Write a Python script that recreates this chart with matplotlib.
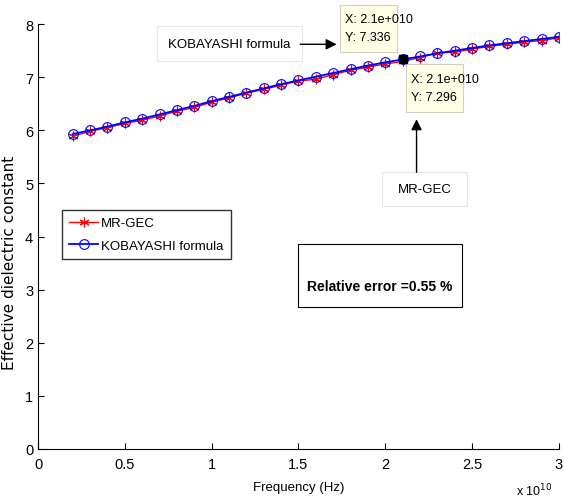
import matplotlib.pyplot as plt
from matplotlib.patches import Rectangle

plt.rcParams['font.family'] = ['Liberation Sans', 'DejaVu Sans']

# frequency in units of 1e10 Hz
freq = [0.2, 0.3, 0.4, 0.5, 0.6, 0.7, 0.8, 0.9, 1.0, 1.1, 1.2, 1.3, 1.4, 1.5, 1.6,
        1.7, 1.8, 1.9, 2.0, 2.1, 2.2, 2.3, 2.4, 2.5, 2.6, 2.7, 2.8, 2.9, 3.0]
kobayashi = [5.93, 6.00, 6.07, 6.15, 6.22, 6.30, 6.38, 6.46, 6.55, 6.63, 6.71, 6.79, 6.87,
             6.94, 7.01, 7.08, 7.15, 7.22, 7.28, 7.336, 7.39, 7.45, 7.50, 7.55, 7.60,
             7.64, 7.68, 7.72, 7.76]
mrgec = [5.89, 5.98, 6.05, 6.13, 6.19, 6.27, 6.36, 6.43, 6.53, 6.61, 6.70, 6.77, 6.85,
         6.93, 6.96, 7.05, 7.13, 7.19, 7.25, 7.296, 7.37, 7.46, 7.47, 7.53, 7.58,
         7.62, 7.66, 7.69, 7.74]
xticks = [0, 0.5, 1, 1.5, 2, 2.5, 3]
yticks = [0, 1, 2, 3, 4, 5, 6, 7, 8]

fig = plt.figure(figsize=(5.64, 5.02), dpi=100)
ax = fig.add_axes([0.0674, 0.1036, 0.9236, 0.8464])

ax.plot(freq, mrgec, color='red', lw=1, marker=(6, 2, 0), ms=7, mew=0.8,
        label='MR-GEC')
ax.plot(freq, kobayashi, color='blue', lw=1.3, marker='o', ms=7, mfc='none', mew=0.8,
        label='KOBAYASHI formula')

ax.set_xlim(0, 3)
ax.set_ylim(0, 8)
ax.set_xticks(xticks)
ax.set_xticklabels(['0', '0.5', '1', '1.5', '2', '2.5', '3'])
ax.set_yticks(yticks)
ax.spines['top'].set_visible(False)
ax.spines['right'].set_visible(False)
ax.tick_params(direction='in', length=4, labelsize=10.5, width=0.8)
ax.tick_params(axis='x', pad=6)

ax.set_xlabel('Frequency (Hz)', fontsize=9.5, labelpad=7)
ax.set_ylabel('Effective dielectric constant', fontsize=11, family=['DejaVu Sans'])
ax.yaxis.set_label_coords(-0.04, 0.44)
fig.text(0.98, 0.012, r'x 10$^{10}$', fontsize=9, ha='right')

leg = ax.legend(loc='upper left', bbox_to_anchor=(0.046, 0.563), fontsize=9.5,
                fancybox=False, edgecolor='black', handlelength=2.2,
                borderpad=0.55, labelspacing=0.8, handletextpad=0.2,
                borderaxespad=0)
leg.get_frame().set_linewidth(1)

# relative error box
ax.add_patch(Rectangle((1.50, 2.67), 0.94, 1.19, fc='white', ec='black', lw=0.8, zorder=3))
ax.text(1.97, 3.07, 'Relative error =0.55 %', fontsize=10, fontweight='bold',
        ha='center', va='center', zorder=4)

# data tips
ax.plot([2.1], [7.336], marker='s', color='black', ms=6, zorder=5)
ax.add_patch(Rectangle((1.739, 7.48), 0.328, 0.88, fc='#ffffe6', ec='#d0d0c0', lw=0.8,
                       zorder=4, clip_on=False))
ax.text(1.77, 7.93, 'X: 2.1e+010\nY: 7.336', fontsize=9, va='center', ha='left',
        linespacing=1.6, zorder=5)
ax.add_patch(Rectangle((2.119, 6.34), 0.326, 0.91, fc='#ffffe6', ec='#d0d0c0', lw=0.8,
                       zorder=4))
ax.text(2.15, 6.80, 'X: 2.1e+010\nY: 7.296', fontsize=9, va='center', ha='left',
        linespacing=1.6, zorder=5)

# text arrows
ax.add_patch(Rectangle((0.683, 7.31), 0.835, 0.65, fc='white', ec='#e6e6e6', lw=0.8,
                       zorder=2))
ax.text(1.10, 7.62, 'KOBAYASHI formula', fontsize=9.5, ha='center', va='center', zorder=3)
ax.annotate('', xy=(1.72, 7.62), xytext=(1.51, 7.62),
            arrowprops=dict(arrowstyle='-|>', color='black', lw=1, mutation_scale=16,
                            shrinkA=0, shrinkB=0))
ax.add_patch(Rectangle((1.979, 4.57), 0.49, 0.64, fc='white', ec='#e6e6e6', lw=0.8,
                       zorder=2))
ax.text(2.225, 4.89, 'MR-GEC', fontsize=9.5, ha='center', va='center', zorder=3)
ax.annotate('', xy=(2.18, 6.21), xytext=(2.18, 5.21),
            arrowprops=dict(arrowstyle='-|>', color='black', lw=1, mutation_scale=16,
                            shrinkA=0, shrinkB=0))

fig.savefig('out.png', dpi=100)
